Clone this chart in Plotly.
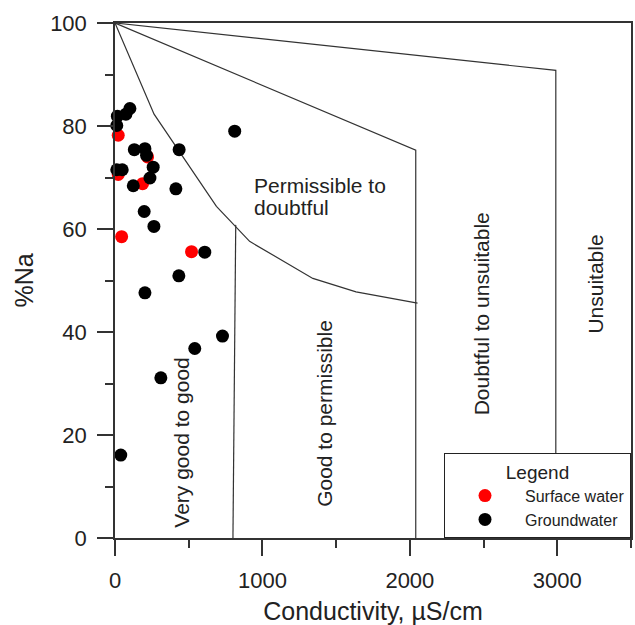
import plotly.graph_objects as go

# ---- sample data (conductivity in µS/cm, %Na) ----
sw_cond = [22, 221, 22, 187, 45, 519]
sw_na = [78.2, 74.0, 70.6, 68.8, 58.5, 55.6]

gw_cond = [101, 74, 16, 12, 812, 131, 203, 214, 435, 259, 12, 49,
           237, 124, 413, 198, 264, 609, 433, 203, 729, 541, 311, 39]
gw_na = [83.4, 82.3, 81.9, 80.1, 79.0, 75.4, 75.6, 74.3, 75.4, 72.0, 71.5, 71.5,
         69.9, 68.4, 67.8, 63.4, 60.5, 55.5, 50.9, 47.6, 39.2, 36.8, 31.1, 16.1]

# ---- Wilcox class boundaries ----
b1_x = [0, 265, 688, 913, 1342, 1635, 2052]
b1_y = [100, 82.3, 64.4, 57.6, 50.4, 47.8, 45.6]
v1_x = [819, 800]
v1_y = [60.8, 0]
b2_x = [0, 2040, 2040]
b2_y = [100, 75.3, 0]
b3_x = [0, 2990, 2990]
b3_y = [100, 90.8, 0]

# ---- class labels ----
lab_text = ["Permissible to", "doubtful", "Very good to good", "Good to permissible",
            "Doubtful to unsuitable", "Unsuitable"]
lab_x = [930, 930, 451, 1421, 2492, 3259]
lab_y = [68.5, 64.2, 18.6, 24.2, 43.5, 49.3]
lab_angle = [0, 0, -90, -90, -90, -90]

FONT = "Liberation Sans, Arial, Helvetica, sans-serif"
LINE = "#333333"

fig = go.Figure()

for bx, by in [(b1_x, b1_y), (v1_x, v1_y), (b2_x, b2_y), (b3_x, b3_y)]:
    fig.add_trace(go.Scatter(x=bx, y=by, mode="lines", line=dict(color=LINE, width=1.2),
                             showlegend=False, hoverinfo="skip"))

fig.add_trace(go.Scatter(x=sw_cond, y=sw_na, mode="markers", name="Surface water",
                         marker=dict(color="#ff0000", size=13), cliponaxis=False))
fig.add_trace(go.Scatter(x=gw_cond, y=gw_na, mode="markers", name="Groundwater",
                         marker=dict(color="#000000", size=13), cliponaxis=False))

for t, x, y, a in zip(lab_text, lab_x, lab_y, lab_angle):
    fig.add_annotation(x=x, y=y, text=t, textangle=a, showarrow=False,
                       xanchor="left" if a == 0 else "center", yanchor="middle",
                       font=dict(size=21, color="#222222", family=FONT))

axis_common = dict(showline=True, linecolor=LINE, linewidth=1.5, mirror=True,
                   ticks="outside", ticklen=16, tickwidth=1.5, tickcolor=LINE,
                   showgrid=False, zeroline=False, automargin=False,
                   ticklabelstandoff=6,
                   tickfont=dict(size=22, color="#222222", family=FONT))

fig.update_xaxes(range=[0, 3500], dtick=1000, tick0=0,
                 minor=dict(dtick=500, ticklen=8, ticks="outside", tickcolor=LINE, tickwidth=1.5),
                 title=dict(text="Conductivity, µS/cm", font=dict(size=25, color="#222222", family=FONT),
                            standoff=12),
                 **axis_common)
fig.update_yaxes(range=[0, 100], dtick=20, tick0=0,
                 minor=dict(dtick=10, ticklen=8, ticks="outside", tickcolor=LINE, tickwidth=1.5),
                 title=dict(text="%Na", font=dict(size=25, color="#222222", family=FONT), standoff=9),
                 **axis_common)

fig.update_layout(
    width=635, height=625,
    margin=dict(l=115, r=4, t=23, b=87),
    paper_bgcolor="white", plot_bgcolor="white",
    font=dict(family=FONT, color="#222222"),
    legend=dict(x=1, xanchor="right", y=0, yanchor="bottom",
                bgcolor="white", bordercolor="#222222", borderwidth=1,
                font=dict(size=16, color="#222222", family=FONT),
                title=dict(text="Legend", side="top center", font=dict(size=19, family=FONT)),
                itemwidth=70, indentation=0),
)

fig.write_html("out.html", config={"displayModeBar": False},
               post_script="document.body.style.margin='0';document.body.style.overflow='hidden';")
